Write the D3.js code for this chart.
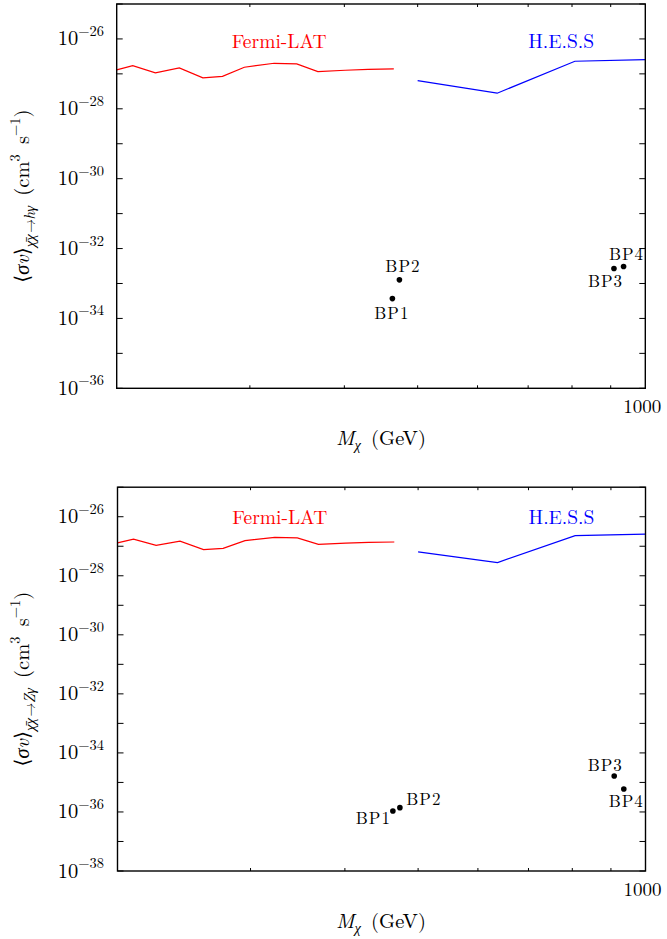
<!DOCTYPE html>
<html>
<head>
<meta charset="utf-8">
<script src="https://cdn.jsdelivr.net/npm/d3@7"></script>
<style>
  html, body { margin: 0; padding: 0; background: #fff; }
  svg { display: block; }
</style>
</head>
<body>
<svg id="chart" width="667" height="939"></svg>
<script>
// ---- data ----
const fermiMass  = [200, 210, 225, 242, 260, 276, 295, 323, 346, 369, 401, 430, 465];
const fermiSigma = [1.30e-27, 1.73e-27, 1.07e-27, 1.48e-27, 7.7e-28, 8.5e-28, 1.55e-27,
                    2.01e-27, 1.93e-27, 1.16e-27, 1.27e-27, 1.35e-27, 1.39e-27];
const hessMass  = [500, 637, 807, 1000];
const hessSigma = [6.4e-28, 2.8e-28, 2.3e-27, 2.56e-27];
const bpNames   = ["BP1", "BP2", "BP3", "BP4"];
const bpMass    = [463, 473, 909, 936];
const bpSigmaH  = [3.7e-34, 1.27e-33, 2.68e-33, 3.06e-33];   // chi chi -> h gamma
const bpSigmaZ  = [1.08e-36, 1.40e-36, 1.66e-35, 6.0e-36];   // chi chi -> Z gamma
const xTicks    = [300, 400, 500, 600, 700, 800, 900];
const xLabelTicks = [1000];
const labelFermi = "Fermi-LAT";
const labelHess  = "H.E.S.S";

const FONT = "'Latin Modern Roman', 'Liberation Serif', 'DejaVu Serif', serif";
const svg = d3.select("#chart");

function drawPanel(cfg) {
  const x = d3.scaleLog().domain([200, 1000]).range([cfg.left, cfg.right]);
  const y = d3.scaleLog().domain(cfg.yDomain).range([cfg.bottom, cfg.top]);
  const g = svg.append("g");

  const lo = Math.round(Math.log10(cfg.yDomain[0])), hi = Math.round(Math.log10(cfg.yDomain[1]));
  const decades = d3.range(lo, hi + 1).map(e => Math.pow(10, e));
  g.selectAll(".ytl").data(decades).join("line")
    .attr("x1", cfg.left).attr("x2", cfg.left + 6)
    .attr("y1", d => y(d)).attr("y2", d => y(d))
    .attr("stroke", "#000").attr("stroke-width", 1);
  g.selectAll(".ytr").data(decades).join("line")
    .attr("x1", cfg.right).attr("x2", cfg.right - 6)
    .attr("y1", d => y(d)).attr("y2", d => y(d))
    .attr("stroke", "#000").attr("stroke-width", 1);

  g.selectAll(".xtb").data(xTicks).join("line")
    .attr("x1", d => x(d)).attr("x2", d => x(d))
    .attr("y1", cfg.bottom).attr("y2", cfg.bottom - 3)
    .attr("stroke", "#000").attr("stroke-width", 1);
  g.selectAll(".xtt").data(xTicks).join("line")
    .attr("x1", d => x(d)).attr("x2", d => x(d))
    .attr("y1", cfg.top).attr("y2", cfg.top + 3)
    .attr("stroke", "#000").attr("stroke-width", 1);

  const labDec = decades.filter(d => Math.round(Math.log10(d)) % 2 === 0);
  const yl = g.selectAll(".ylab").data(labDec).join("text")
    .attr("x", 104).attr("y", d => y(d) + 6.5)
    .attr("text-anchor", "end").attr("font-size", 20.5).style("font-family", FONT);
  yl.append("tspan").text("10");
  yl.append("tspan").attr("font-size", 14.5).attr("dy", -9.5)
    .text(d => "\u2212" + Math.abs(Math.round(Math.log10(d))));

  g.selectAll(".xlab").data(xLabelTicks).join("text")
    .attr("x", d => x(d) - 3).attr("y", cfg.bottom + 25)
    .attr("text-anchor", "middle").attr("font-size", 19).style("font-family", FONT)
    .text(d => d);

  const line = d3.line().x(d => x(d[0])).y(d => y(d[1]));
  g.append("path").datum(d3.zip(fermiMass, fermiSigma))
    .attr("d", line).attr("fill", "none").attr("stroke", "#ff0000").attr("stroke-width", 1.2);
  g.append("path").datum(d3.zip(hessMass, hessSigma))
    .attr("d", line).attr("fill", "none").attr("stroke", "#0000ff").attr("stroke-width", 1.2);

  g.append("text").attr("x", x(328)).attr("y", y(cfg.labelY))
    .attr("text-anchor", "middle").attr("font-size", 19.5).style("font-family", FONT)
    .attr("fill", "#ff0000").text(labelFermi);
  g.append("text").attr("x", x(774)).attr("y", y(cfg.labelY))
    .attr("text-anchor", "middle").attr("font-size", 19.5).style("font-family", FONT)
    .attr("fill", "#0000ff").text(labelHess);

  g.append("rect").attr("x", cfg.left).attr("y", cfg.top)
    .attr("width", cfg.right - cfg.left).attr("height", cfg.bottom - cfg.top)
    .attr("fill", "none").attr("stroke", "#000").attr("stroke-width", 1.4);

  const pts = bpNames.map((n, i) => ({ name: n, m: bpMass[i], s: cfg.bpSigma[i], off: cfg.bpOff[i] }));
  g.selectAll(".bp").data(pts).join("circle")
    .attr("cx", d => x(d.m)).attr("cy", d => y(d.s)).attr("r", 2.8).attr("fill", "#000");
  g.selectAll(".bpl").data(pts).join("text")
    .attr("x", d => x(d.m) + d.off[0] + 0.5).attr("y", d => y(d.s) + d.off[1])
    .attr("text-anchor", "middle").attr("font-size", 17).attr("letter-spacing", 1)
    .style("font-family", FONT)
    .text(d => d.name);

  const xt = g.append("text").attr("x", 381).attr("y", cfg.bottom + 57)
    .attr("text-anchor", "middle").attr("font-size", 20.5).style("font-family", FONT);
  xt.append("tspan").attr("font-style", "italic").text("M");
  xt.append("tspan").attr("font-style", "italic").attr("font-size", 14.5).attr("dy", 5).text("\u03C7");
  xt.append("tspan").attr("dy", -5).text("\u2002(GeV)");

  const cy = (cfg.top + cfg.bottom) / 2;
  const yt = g.append("text").attr("transform", `translate(29,${cy}) rotate(-90)`)
    .attr("text-anchor", "middle").attr("font-size", 20.5).style("font-family", FONT);
  yt.append("tspan").text("\u27E8");
  yt.append("tspan").attr("font-style", "italic").text("\u03C3v");
  yt.append("tspan").text("\u27E9");
  yt.append("tspan").attr("font-style", "italic").attr("font-size", 15).attr("dy", 6)
    .text("\u03C7\u0304\u03C7\u2192" + cfg.product + "\u03B3");
  yt.append("tspan").attr("dy", -6).text("\u2002(cm");
  yt.append("tspan").attr("font-size", 14.5).attr("dy", -9).text("3");
  yt.append("tspan").attr("dy", 9).text("\u2002s");
  yt.append("tspan").attr("font-size", 14.5).attr("dy", -9).text("\u22121");
  yt.append("tspan").attr("dy", 9).text(")");
}

drawPanel({
  left: 116.7, right: 645.3, top: 4, bottom: 388.3,
  yDomain: [1e-36, 1e-25], labelY: 5.5e-27, product: "h",
  bpSigma: bpSigmaH,
  bpOff: [[-1, 20.5], [3, -7.5], [-9, 18.5], [2.5, -6.5]]
});
drawPanel({
  left: 117.5, right: 645.5, top: 487.2, bottom: 871,
  yDomain: [1e-38, 1e-25], labelY: 5.5e-27, product: "Z",
  bpSigma: bpSigmaZ,
  bpOff: [[-20, 13], [23.5, -2.5], [-9.5, -5.3], [2, 18.3]]
});
</script>
</body>
</html>
